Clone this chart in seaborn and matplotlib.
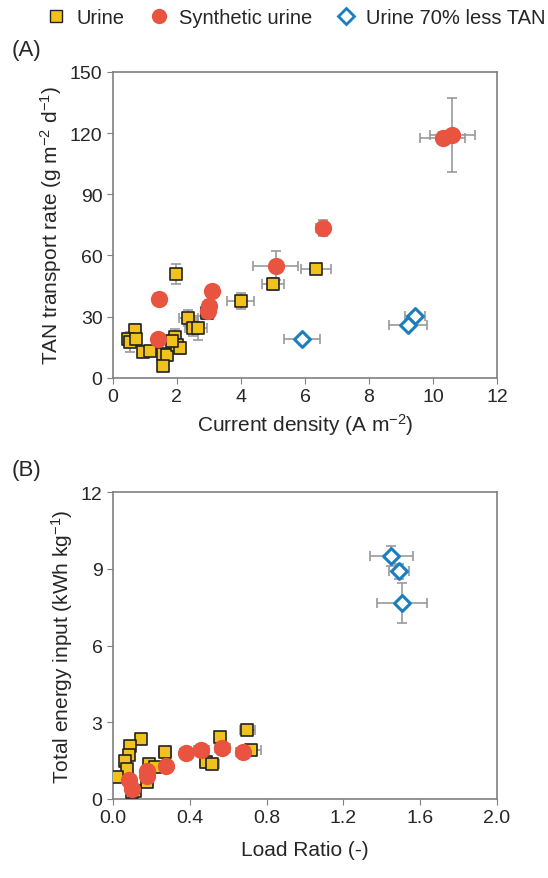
import numpy as np
import pandas as pd
import matplotlib.pyplot as plt
import seaborn as sns
from matplotlib.lines import Line2D

# (A) current density vs TAN transport rate
cd_urine = [1.97, 4.0, 5.0, 6.34, 2.35, 2.5, 2.65, 0.69, 0.47, 0.53, 0.72,
            0.94, 1.16, 1.56, 1.7, 1.56, 1.94, 2.0, 2.09, 1.85, 2.95]
tan_urine = [51, 37.7, 46, 53.4, 29.4, 24.5, 24.5, 23.5, 19, 17.6, 19,
             12.7, 13.2, 11.8, 11.3, 5.9, 20, 16, 14.7, 18, 32]
cd_err_urine = [0.05, 0.42, 0.35, 0.46, 0.3, 0.25, 0.3, 0.1, 0.1, 0.1, 0.1,
                0.1, 0.1, 0.1, 0.1, 0.1, 0.15, 0.15, 0.15, 0.1, 0.2]
tan_err_urine = [5, 4, 3, 2, 4, 4, 6, 3, 3, 5, 3,
                 2, 2, 2, 3, 2, 4, 3, 3, 3, 3]

cd_syn = [1.44, 3.1, 3.0, 2.97, 5.08, 1.41, 6.56, 10.3, 10.6]
tan_syn = [38.7, 42.6, 35, 33, 55, 19, 73.5, 117.6, 119]
cd_err_syn = [0.1, 0.15, 0.2, 0.2, 0.69, 0.1, 0.2, 0.7, 0.7]
tan_err_syn = [3, 2, 3, 3, 7, 2, 4, 3, 18]

cd_low = [5.9, 9.44, 9.22]
tan_low = [19, 30.4, 26]
cd_err_low = [0.57, 0.3, 0.6]
tan_err_low = [1.5, 1.5, 1.5]

# (B) load ratio vs energy input
lr_urine = [0.70, 0.72, 0.56, 0.485, 0.515, 0.27, 0.146, 0.09, 0.083, 0.062,
            0.072, 0.02, 0.19, 0.22, 0.18, 0.10, 0.115]
en_urine = [2.7, 1.93, 2.42, 1.45, 1.37, 1.82, 2.34, 2.05, 1.72, 1.49,
            1.17, 0.85, 1.37, 1.25, 0.66, 0.27, 0.31]
lr_err_urine = [0.04, 0.05, 0.02, 0.03, 0.04, 0.03, 0.01, 0.01, 0.01, 0.01,
                0.01, 0.01, 0.02, 0.02, 0.02, 0.01, 0.01]
en_err_urine = [0.1, 0.1, 0.15, 0.1, 0.1, 0.1, 0.1, 0.1, 0.1, 0.1,
                0.1, 0.1, 0.1, 0.1, 0.1, 0.1, 0.1]

lr_syn = [0.083, 0.10, 0.175, 0.18, 0.275, 0.38, 0.46, 0.57, 0.68]
en_syn = [0.74, 0.39, 1.1, 0.9, 1.3, 1.8, 1.9, 1.98, 1.83]
lr_err_syn = [0.01, 0.01, 0.02, 0.02, 0.02, 0.03, 0.04, 0.04, 0.04]
en_err_syn = [0.1, 0.1, 0.1, 0.1, 0.1, 0.1, 0.1, 0.1, 0.1]

lr_low = [1.45, 1.49, 1.505]
en_low = [9.5, 8.9, 7.66]
lr_err_low = [0.11, 0.05, 0.13]
en_err_low = [0.4, 0.3, 0.78]

groups = ["Urine", "Synthetic urine", "Urine 70% less TAN"]

df_a = pd.DataFrame({
    "x": cd_urine + cd_syn + cd_low,
    "y": tan_urine + tan_syn + tan_low,
    "xerr": cd_err_urine + cd_err_syn + cd_err_low,
    "yerr": tan_err_urine + tan_err_syn + tan_err_low,
    "group": [groups[0]] * len(cd_urine) + [groups[1]] * len(cd_syn) + [groups[2]] * len(cd_low),
})
df_b = pd.DataFrame({
    "x": lr_urine + lr_syn + lr_low,
    "y": en_urine + en_syn + en_low,
    "xerr": lr_err_urine + lr_err_syn + lr_err_low,
    "yerr": en_err_urine + en_err_syn + en_err_low,
    "group": [groups[0]] * len(lr_urine) + [groups[1]] * len(lr_syn) + [groups[2]] * len(lr_low),
})

sns.set_style("white")
plt.rcParams['font.family'] = ['Liberation Sans', 'DejaVu Sans']
plt.rcParams['mathtext.fontset'] = 'custom'
plt.rcParams['mathtext.rm'] = 'Liberation Sans'
plt.rcParams['mathtext.it'] = 'Liberation Sans:italic'
plt.rcParams['font.size'] = 14

face = {"Urine": "#f1c21b", "Synthetic urine": "#e8543f", "Urine 70% less TAN": "white"}
edge = {"Urine": "#222222", "Synthetic urine": "#e8543f", "Urine 70% less TAN": "#1a7fc1"}
mark = {"Urine": "s", "Synthetic urine": "o", "Urine 70% less TAN": "D"}
size = {"Urine": 85, "Synthetic urine": 155, "Urine 70% less TAN": 65}
lw = {"Urine": 1.2, "Synthetic urine": 0, "Urine 70% less TAN": 2.2}

fig = plt.figure(figsize=(5.48, 8.79), dpi=100)
ax1 = fig.add_axes([0.206, 0.569, 0.701, 0.348])
ax2 = fig.add_axes([0.206, 0.090, 0.701, 0.349])


def draw(ax, df):
    # error bars first, then markers on top
    ax.errorbar(df["x"], df["y"], xerr=df["xerr"], yerr=df["yerr"], fmt="none",
                ecolor="#999999", elinewidth=1.2, capsize=3.5, capthick=1.2, zorder=1)
    for g in groups:
        sub = df[df["group"] == g]
        sns.scatterplot(data=sub, x="x", y="y", ax=ax, marker=mark[g], s=size[g],
                        color=face[g], edgecolor=edge[g], linewidth=lw[g],
                        zorder=3, legend=False)
    for sp in ax.spines.values():
        sp.set_color("#808080")
        sp.set_linewidth(1.2)
    ax.tick_params(direction="out", length=4, color="#808080", labelsize=14,
                   left=True, bottom=True)


draw(ax1, df_a)
ax1.set_xlim(0, 12)
ax1.set_ylim(0, 150)
ax1.set_xticks(np.arange(0, 13, 2))
ax1.set_yticks(np.arange(0, 151, 30))
ax1.set_xlabel("Current density (A m$^{-2}$)", fontsize=15)
ax1.set_ylabel("TAN transport rate (g m$^{-2}$ d$^{-1}$)", fontsize=15)

draw(ax2, df_b)
ax2.set_xlim(0, 2.0)
ax2.set_ylim(0, 12)
ax2.set_xticks(np.arange(0, 2.01, 0.4))
ax2.set_xticklabels([f"{v:.1f}" for v in np.arange(0, 2.01, 0.4)])
ax2.set_yticks(np.arange(0, 13, 3))
ax2.set_xlabel("Load Ratio (-)", fontsize=15, labelpad=10)
ax2.set_ylabel("Total energy input (kWh kg$^{-1}$)", fontsize=15)

fig.text(0.022, 0.936, "(A)", fontsize=16)
fig.text(0.022, 0.458, "(B)", fontsize=16)

handles = [Line2D([], [], ls="", marker=mark[g], markersize={"Urine": 8, "Synthetic urine": 11, "Urine 70% less TAN": 8}[g],
                  markerfacecolor=face[g], markeredgecolor=edge[g],
                  markeredgewidth={"Urine": 1, "Synthetic urine": 0, "Urine 70% less TAN": 2}[g])
           for g in groups]
fig.legend(handles, groups, loc="upper center", bbox_to_anchor=(0.54, 1.01), ncol=3,
           frameon=False, fontsize=14.5, handletextpad=0.5, columnspacing=1.2,
           handlelength=1.0)

fig.savefig("out.png", dpi=100)
